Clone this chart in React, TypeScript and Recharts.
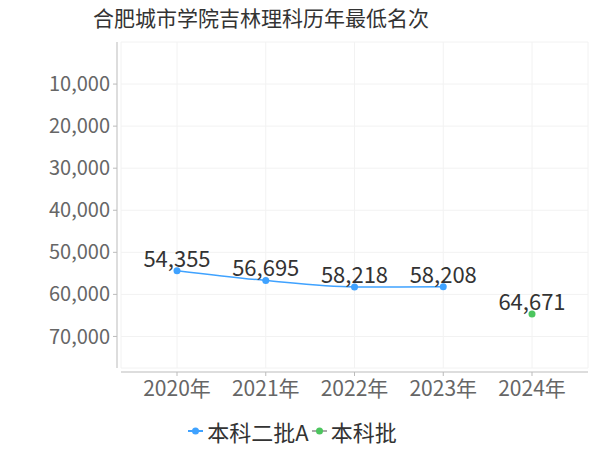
import React from 'react';
import {
  LineChart,
  Line,
  XAxis,
  YAxis,
  CartesianGrid,
  Legend,
  LabelList
} from 'recharts';

const years = ['2020年', '2021年', '2022年', '2023年', '2024年'];
const erpiA: (number | null)[] = [54355, 56695, 58218, 58208, null];
const benke: (number | null)[] = [null, null, null, null, 64671];
const yTicks = [10000, 20000, 30000, 40000, 50000, 60000, 70000];

const series = [
  { key: 'erpiA', name: '本科二批A', color: '#3fa2ff', iconLine: '#3fa2ff' },
  { key: 'benke', name: '本科批', color: '#4cc55e', iconLine: '#aaaaaa' }
];

const data = years.map((year, i) => ({ year, erpiA: erpiA[i], benke: benke[i] }));

const FONT = "'Noto Sans CJK SC', 'Noto Sans', sans-serif";
const fmt = (v: any) => (v == null ? '' : Number(v).toLocaleString('en-US'));

const LegendContent = () => (
  <div
    style={{
      height: 42,
      boxSizing: 'border-box',
      paddingTop: 4,
      display: 'flex',
      justifyContent: 'center',
      alignItems: 'center',
      fontFamily: FONT,
      fontSize: 22,
      color: '#333'
    }}
  >
    {series.map((s) => (
      <span key={s.key} style={{ display: 'flex', alignItems: 'center', marginRight: 3 }}>
        <svg width={15} height={10} style={{ marginRight: 4 }}>
          <line x1={0} y1={5} x2={15} y2={5} stroke={s.iconLine} strokeWidth={2} />
          <circle cx={7.5} cy={5} r={3.5} fill={s.color} />
        </svg>
        {s.name}
      </span>
    ))}
  </div>
);

export default function App() {
  return (
    <div style={{ position: 'relative', width: 600, height: 450, fontFamily: FONT }}>
      <style>{'body{margin:0}'}</style>
      <div
        style={{
          position: 'absolute',
          top: 3,
          left: 0,
          width: 522,
          textAlign: 'center',
          fontSize: 21,
          lineHeight: '28px',
          color: '#333'
        }}
      >
        合肥城市学院吉林理科历年最低名次
      </div>
      <LineChart width={600} height={450} data={data} margin={{ top: 42, right: 12, left: 0, bottom: 0 }}>
        <CartesianGrid stroke="#f2f2f2" />
        <XAxis
          dataKey="year"
          height={40}
          padding={{ left: 56, right: 56 }}
          tick={{ fontSize: 21, fill: '#666', fontFamily: FONT }}
          tickSize={4}
          tickMargin={9}
          axisLine={{ stroke: '#bbb', transform: 'translate(0,4)' }}
          tickLine={{ stroke: '#bbb', transform: 'translate(0,4)' }}
        />
        <YAxis
          reversed
          width={121}
          domain={[0, 77500]}
          ticks={yTicks}
          tickFormatter={fmt}
          tick={{ fontSize: 20, fill: '#666', fontFamily: FONT }}
          tickSize={4}
          tickMargin={7}
          axisLine={{ stroke: '#bbb', transform: 'translate(-4,0)' }}
          tickLine={{ stroke: '#bbb', transform: 'translate(-4,0)' }}
        />
        <Legend verticalAlign="bottom" content={<LegendContent />} />
        {series.map((s) => (
          <Line
            key={s.key}
            type="monotone"
            dataKey={s.key}
            name={s.name}
            stroke={s.color}
            strokeWidth={1.5}
            dot={{ r: 3.5, fill: s.color, stroke: s.color, strokeWidth: 0 }}
            activeDot={false}
            isAnimationActive={false}
          >
            <LabelList
              dataKey={s.key}
              position="top"
              offset={4}
              formatter={fmt}
              style={{ fontSize: 22, fill: '#333', fontFamily: FONT }}
            />
          </Line>
        ))}
      </LineChart>
    </div>
  );
}
